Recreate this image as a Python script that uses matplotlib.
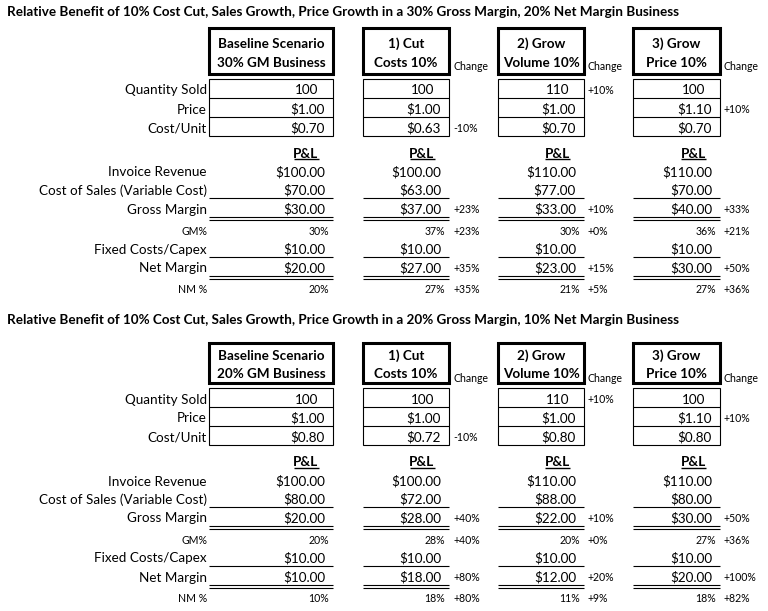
import matplotlib.pyplot as plt

plt.rcParams['font.family'] = ['Lato', 'DejaVu Sans']

# ---- data ----
titles = ['Relative Benefit of 10% Cost Cut, Sales Growth, Price Growth in a 30% Gross Margin, 20% Net Margin Business',
          'Relative Benefit of 10% Cost Cut, Sales Growth, Price Growth in a 20% Gross Margin, 10% Net Margin Business']
headers_top = ['Baseline Scenario', '1) Cut', '2) Grow', '3) Grow']
headers_bottom = [['30% GM Business', 'Costs 10%', 'Volume 10%', 'Price 10%'],
                  ['20% GM Business', 'Costs 10%', 'Volume 10%', 'Price 10%']]
input_labels = ['Quantity Sold', 'Price', 'Cost/Unit']
pl_labels = ['Invoice Revenue', 'Cost of Sales (Variable Cost)', 'Gross Margin', 'GM%',
             'Fixed Costs/Capex', 'Net Margin', 'NM %']

qty = [100, 100, 110, 100]
price = [1.00, 1.00, 1.00, 1.10]
qty_change = [None, None, 10, None]
price_change = [None, None, None, 10]
cost_change = [None, -10, None, None]

# 30% GM business
s1_cost_unit = [0.70, 0.63, 0.70, 0.70]
s1_revenue = [100, 100, 110, 110]
s1_cos = [70, 63, 77, 70]
s1_gm = [30, 37, 33, 40]
s1_gm_pct = [30, 37, 30, 36]
s1_fixed = [10, 10, 10, 10]
s1_nm = [20, 27, 23, 30]
s1_nm_pct = [20, 27, 21, 27]
s1_gm_chg = [None, 23, 10, 33]
s1_gm_pct_chg = [None, 23, 0, 21]
s1_nm_chg = [None, 35, 15, 50]
s1_nm_pct_chg = [None, 35, 5, 36]

# 20% GM business
s2_cost_unit = [0.80, 0.72, 0.80, 0.80]
s2_revenue = [100, 100, 110, 110]
s2_cos = [80, 72, 88, 80]
s2_gm = [20, 28, 22, 30]
s2_gm_pct = [20, 28, 20, 27]
s2_fixed = [10, 10, 10, 10]
s2_nm = [10, 18, 12, 20]
s2_nm_pct = [10, 18, 11, 18]
s2_gm_chg = [None, 40, 10, 50]
s2_gm_pct_chg = [None, 40, 0, 36]
s2_nm_chg = [None, 80, 20, 100]
s2_nm_pct_chg = [None, 80, 9, 82]

sections = [
    dict(cost_unit=s1_cost_unit, revenue=s1_revenue, cos=s1_cos, gm=s1_gm, gm_pct=s1_gm_pct,
         fixed=s1_fixed, nm=s1_nm, nm_pct=s1_nm_pct, gm_chg=s1_gm_chg, gm_pct_chg=s1_gm_pct_chg,
         nm_chg=s1_nm_chg, nm_pct_chg=s1_nm_pct_chg),
    dict(cost_unit=s2_cost_unit, revenue=s2_revenue, cos=s2_cos, gm=s2_gm, gm_pct=s2_gm_pct,
         fixed=s2_fixed, nm=s2_nm, nm_pct=s2_nm_pct, gm_chg=s2_gm_chg, gm_pct_chg=s2_gm_pct_chg,
         nm_chg=s2_nm_chg, nm_pct_chg=s2_nm_pct_chg),
]

# ---- layout (pixel coordinates) ----
box_left = [209, 363, 498, 633]
box_right = [333, 449, 584, 720]
label_x = 207
FS = 9.75
FS_SMALL = 7.6
THIN = 0.8
DY = 1.5   # nudge text down so caps sit centred like in Excel


def money(v):
    return '\\$' + format(v, ',.2f')


def chg(v):
    return format(v, '+d') + '%'


fig = plt.figure(figsize=(7.68, 6.11), dpi=100)
ax = fig.add_axes([0, 0, 1, 1])
ax.set_xlim(0, 768)
ax.set_ylim(611, 0)
ax.axis('off')


def txt(x, y, s, small=False, bold=False, ha='right'):
    ax.text(x, y + DY, s, fontsize=FS_SMALL if small else FS,
            fontweight='bold' if bold else 'normal', ha=ha, va='center')


def hline(x0, x1, y, lw=THIN):
    ax.plot([x0, x1], [y, y], color='black', lw=lw, solid_capstyle='butt')


def draw_section(k, d, y0, hdr_top, hdr_bot, hdr_text):
    txt(7, y0 + 10, titles[k], bold=True, ha='left')

    for i in range(4):
        L, R = box_left[i], box_right[i]
        cx = (L + R) / 2
        # header box
        ax.add_patch(plt.Rectangle((L, hdr_top), R - L, hdr_bot - hdr_top, fill=False,
                                   lw=2.2, ec='black'))
        txt(cx, hdr_text[0], headers_top[i], bold=True, ha='center')
        txt(cx, hdr_text[1], headers_bottom[k][i], bold=True, ha='center')
        if i > 0:
            txt(R + 4, hdr_text[1] + 4, 'Change', small=True, ha='left')

        # inputs table
        top = y0 + 79
        ax.add_patch(plt.Rectangle((L, top), R - L, 57, fill=False, lw=THIN, ec='black'))
        hline(L, R, top + 19)
        hline(L, R, top + 38)
        txt(R - 15, y0 + 89, str(qty[i]))
        txt(R - 8, y0 + 108, money(price[i]))
        txt(R - 8, y0 + 127, money(d['cost_unit'][i]))
        for yy, c in [(89, qty_change[i]), (108, price_change[i]), (127, cost_change[i])]:
            if c is not None:
                txt(R + 4, y0 + yy, chg(c), small=True, ha='left')

        # P&L
        pcx = R - 27
        txt(pcx, y0 + 152, 'P&L', bold=True, ha='center')
        hline(pcx - 12.5, pcx + 12.5, y0 + 159, lw=1.0)
        txt(R - 8, y0 + 171, money(d['revenue'][i]))
        txt(R - 8, y0 + 189, money(d['cos'][i]))
        hline(L, R, y0 + 198)
        txt(R - 8, y0 + 208, money(d['gm'][i]))
        hline(L, R, y0 + 217)
        hline(L, R, y0 + 219.5)
        txt(R - 4, y0 + 230, str(d['gm_pct'][i]) + '%', small=True)
        txt(R - 8, y0 + 248, money(d['fixed'][i]))
        hline(L, R, y0 + 257)
        txt(R - 8, y0 + 267, money(d['nm'][i]))
        hline(L, R, y0 + 276)
        hline(L, R, y0 + 278.5)
        txt(R - 4, y0 + 288, str(d['nm_pct'][i]) + '%', small=True)
        for yy, key in [(208, 'gm_chg'), (230, 'gm_pct_chg'), (267, 'nm_chg'), (288, 'nm_pct_chg')]:
            if d[key][i] is not None:
                txt(R + 4, y0 + yy, chg(d[key][i]), small=True, ha='left')

    # row labels
    for yy, lab in zip([89, 108, 127], input_labels):
        txt(label_x, y0 + yy, lab)
    for yy, lab in zip([171, 189, 208, 230, 248, 267, 288], pl_labels):
        txt(label_x, y0 + yy, lab, small=lab in ('GM%', 'NM %'))


draw_section(0, sections[0], 0, 28, 73.5, (42.5, 61.5))
draw_section(1, sections[1], 309, 343, 382.5, (354, 373))

fig.savefig('out.png', dpi=100, facecolor='white')
